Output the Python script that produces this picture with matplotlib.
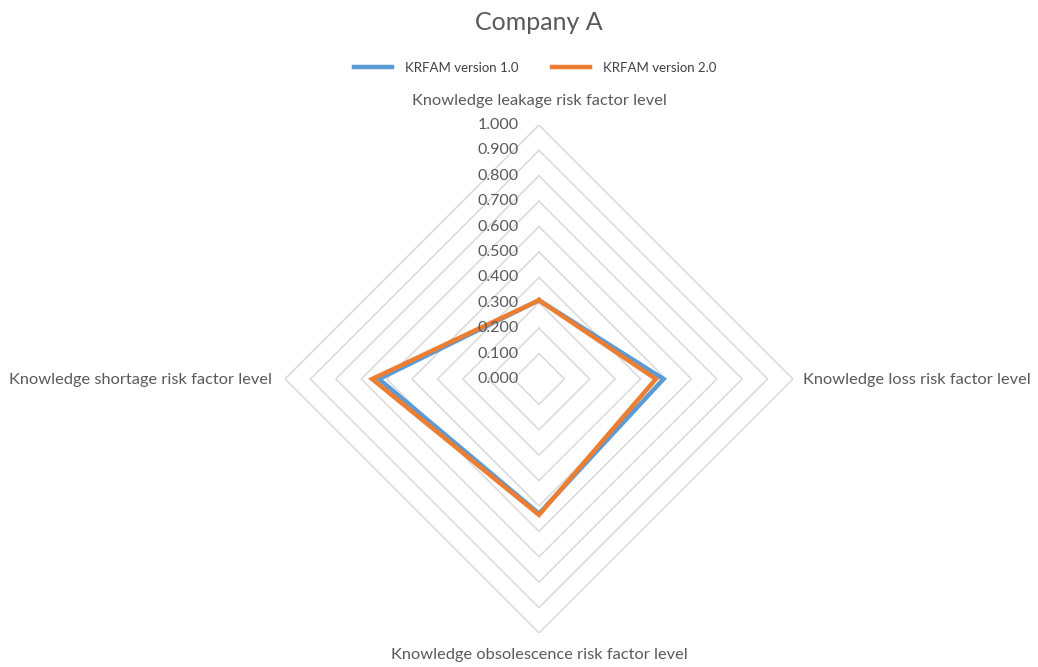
import numpy as np
import matplotlib
matplotlib.use("Agg")
import matplotlib.pyplot as plt
from matplotlib.transforms import offset_copy

plt.rcParams['font.family'] = ['Lato', 'DejaVu Sans']

title = "Company A"
categories = ["Knowledge leakage risk factor level",
              "Knowledge loss risk factor level",
              "Knowledge obsolescence risk factor level",
              "Knowledge shortage risk factor level"]
series_names = ["KRFAM version 1.0", "KRFAM version 2.0"]
v1 = [0.31, 0.49, 0.53, 0.63]
v2 = [0.31, 0.46, 0.535, 0.657]
ring_values = [0.1, 0.2, 0.3, 0.4, 0.5, 0.6, 0.7, 0.8, 0.9, 1.0]
tick_values = [0.0, 0.1, 0.2, 0.3, 0.4, 0.5, 0.6, 0.7, 0.8, 0.9, 1.0]

colors = ["#5B9BD5", "#ED7D31"]
grid_c = "#D9D9D9"
text_c = "#595959"

W, H = 1038, 667
fig = plt.figure(figsize=(W / 100, H / 100), dpi=100)
cx, cy, R = 539, 379, 254
ax = fig.add_axes([(cx - R) / W, (H - cy - R) / H, 2 * R / W, 2 * R / H], projection='polar')
ax.set_theta_zero_location('N')
ax.set_theta_direction(-1)
ax.set_ylim(0, 1)
ax.grid(False)
ax.set_xticks([])
ax.set_yticks([])
ax.spines['polar'].set_visible(False)
ax.patch.set_alpha(0)

n = len(categories)
angles = np.arange(n) * 2 * np.pi / n
closed_a = np.concatenate([angles, angles[:1]])

for rv in ring_values:
    ax.plot(closed_a, [rv] * (n + 1), color=grid_c, lw=1.1, zorder=1)

for vals, c, name in zip([v1, v2], colors, series_names):
    vv = list(vals) + [vals[0]]
    ax.plot(closed_a, vv, color=c, lw=3.2, zorder=3, label=name,
            solid_joinstyle='miter')

tr = offset_copy(ax.transData, fig=fig, x=-20, y=0, units='dots')
for tv in tick_values:
    ax.text(0, tv, f"{tv:.3f}", transform=tr, ha='right', va='center',
            fontsize=11.5, color=text_c, zorder=4)

# category labels
fs = 11.8
fig.text(cx / W, 1 - 101 / H, categories[0], ha='center', va='center', fontsize=fs, color=text_c)
fig.text(803 / W, 1 - 380 / H, categories[1], ha='left', va='center', fontsize=fs, color=text_c)
fig.text(cx / W, 1 - 655 / H, categories[2], ha='center', va='center', fontsize=fs, color=text_c)
fig.text(272 / W, 1 - 380 / H, categories[3], ha='right', va='center', fontsize=fs, color=text_c)

fig.text(cx / W, 1 - 22 / H, title, ha='center', va='center', fontsize=18, color=text_c)

leg = fig.legend(loc='center', bbox_to_anchor=(535 / W, 1 - 68 / H), ncol=2, frameon=False,
                 fontsize=9.5, handlelength=2.9, columnspacing=2.5, handletextpad=1.0)
for t in leg.get_texts():
    t.set_color("#404040")

fig.savefig("out.png", dpi=100, facecolor='white')
